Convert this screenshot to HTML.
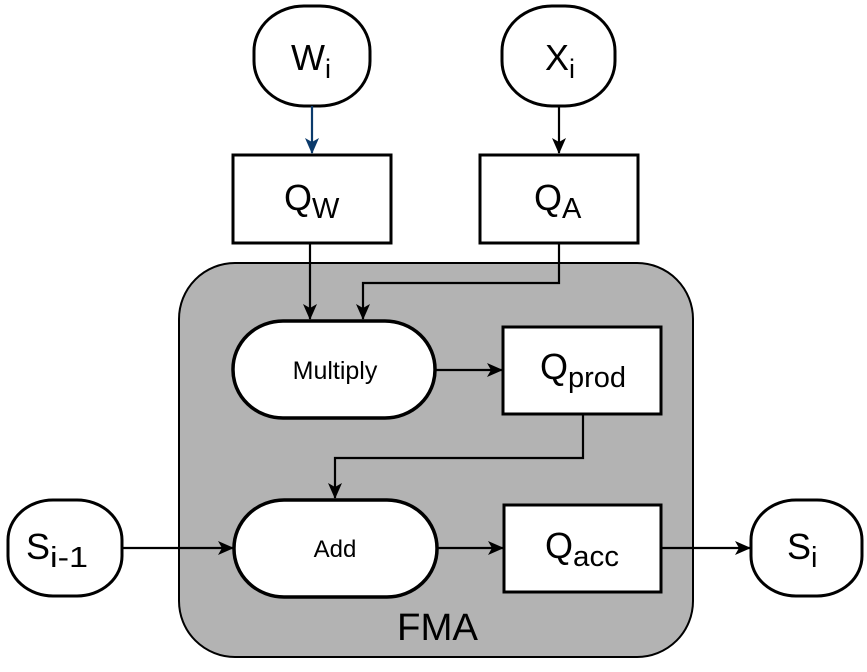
<!DOCTYPE html>
<html><head><style>body{margin:0;background:#fff}</style></head><body>
<svg width="867" height="667" xmlns="http://www.w3.org/2000/svg" font-family="Liberation Sans, Arial, sans-serif">
<defs>
<marker id="a" markerWidth="16" markerHeight="14" refX="15" refY="7" orient="auto" markerUnits="userSpaceOnUse"><path d="M0,0 L16,7 L0,14 L4,7z" fill="#000"/></marker>
<marker id="b" markerWidth="16" markerHeight="14" refX="15" refY="7" orient="auto" markerUnits="userSpaceOnUse"><path d="M0,0 L16,7 L0,14 L4,7z" fill="#0b3a6b"/></marker>
</defs>
<rect x="179" y="263" width="514" height="394" rx="56" fill="#b3b3b3" stroke="#000" stroke-width="2"/>
<rect x="254" y="6" width="116" height="100" rx="50" ry="45" fill="#fff" stroke="#000" stroke-width="3"/>
<rect x="502" y="6" width="113" height="100" rx="50" ry="45" fill="#fff" stroke="#000" stroke-width="3"/>
<rect x="233" y="155" width="158" height="88" fill="#fff" stroke="#000" stroke-width="3"/>
<rect x="480" y="155" width="158" height="88" fill="#fff" stroke="#000" stroke-width="3"/>
<rect x="233" y="321" width="202" height="97" rx="50" ry="48" fill="#fff" stroke="#000" stroke-width="3.5"/>
<rect x="503" y="327" width="158" height="87" fill="#fff" stroke="#000" stroke-width="3"/>
<rect x="234" y="500" width="203" height="97" rx="50" ry="48" fill="#fff" stroke="#000" stroke-width="3.5"/>
<rect x="504" y="505" width="157" height="87" fill="#fff" stroke="#000" stroke-width="3"/>
<rect x="8" y="500" width="114" height="96" rx="45" ry="40" fill="#fff" stroke="#000" stroke-width="3"/>
<rect x="751" y="500" width="111" height="96" rx="45" ry="40" fill="#fff" stroke="#000" stroke-width="3"/>
<g fill="none" stroke="#000" stroke-width="2.2">
<line x1="312" y1="106" x2="312" y2="153" stroke="#0b3a6b" marker-end="url(#b)"/>
<line x1="559" y1="106" x2="559" y2="153" marker-end="url(#a)"/>
<line x1="310" y1="243" x2="310" y2="319" marker-end="url(#a)"/>
<polyline points="559,243 559,283 363,283 363,319" marker-end="url(#a)"/>
<line x1="435" y1="370" x2="502" y2="370" marker-end="url(#a)"/>
<polyline points="583,414 583,458 335,458 335,498" marker-end="url(#a)"/>
<line x1="122" y1="548" x2="233" y2="548" marker-end="url(#a)"/>
<line x1="437" y1="548" x2="503" y2="548" marker-end="url(#a)"/>
<line x1="661" y1="548" x2="750" y2="548" marker-end="url(#a)"/>
</g>
<g font-size="36" fill="#000">
<text x="291" y="70">W<tspan font-size="27" dy="8">i</tspan></text>
<text x="545" y="70">X<tspan font-size="27" dy="8">i</tspan></text>
<text x="284" y="210">Q<tspan font-size="29" dy="8">W</tspan></text>
<text x="534" y="210">Q<tspan font-size="29" dy="8">A</tspan></text>
<text x="540" y="379">Q<tspan font-size="29" dy="8">prod</tspan></text>
<text x="545" y="558">Q<tspan font-size="29" dy="8" textLength="46" lengthAdjust="spacingAndGlyphs">acc</tspan></text>
<text x="26" y="559">S<tspan font-size="29" dy="8" textLength="38" lengthAdjust="spacingAndGlyphs">i-1</tspan></text>
<text x="787" y="559">S<tspan font-size="29" dy="8">i</tspan></text>
<text x="397" y="640" font-size="38" textLength="81" lengthAdjust="spacingAndGlyphs">FMA</text>
</g>
<text x="335" y="379" font-size="25" text-anchor="middle">Multiply</text>
<text x="335" y="557" font-size="24" text-anchor="middle">Add</text>
</svg>
</body></html>
